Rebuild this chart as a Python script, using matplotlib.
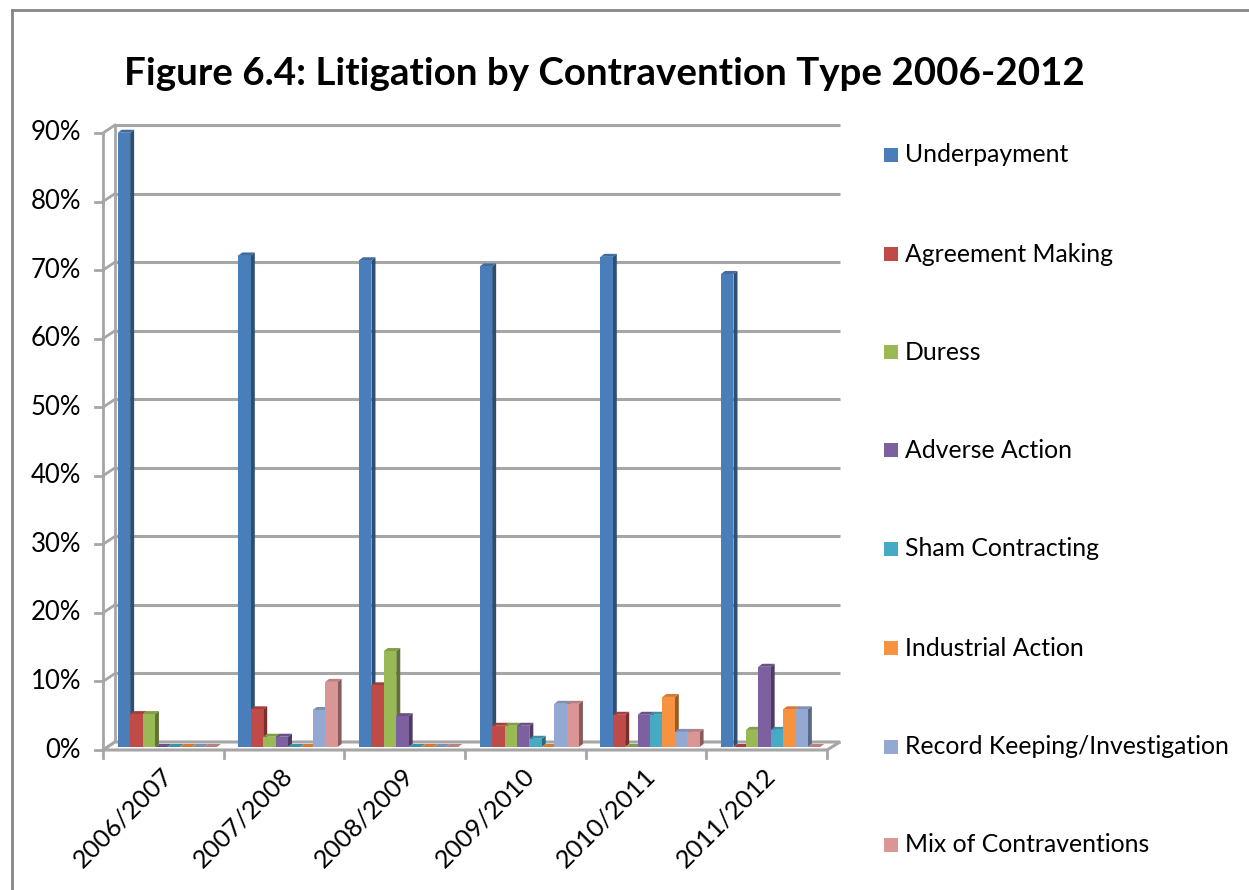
import matplotlib
matplotlib.use("Agg")
import matplotlib.pyplot as plt
from matplotlib.patches import Polygon, Rectangle
from matplotlib.lines import Line2D
import matplotlib.colors as mcolors
import numpy as np

# ---------------- data ----------------
categories = ["2006/2007", "2007/2008", "2008/2009", "2009/2010", "2010/2011", "2011/2012"]
series_names = ["Underpayment", "Agreement Making", "Duress", "Adverse Action",
                "Sham Contracting", "Industrial Action", "Record Keeping/Investigation",
                "Mix of Contraventions"]
underpayment = [89.6, 71.7, 71.0, 70.1, 71.5, 69.0]
agreement_making = [4.8, 5.5, 9.0, 3.1, 4.7, 0.0]
duress = [4.8, 1.5, 14.0, 3.1, 0.0, 2.5]
adverse_action = [0.0, 1.5, 4.5, 3.1, 4.7, 11.7]
sham_contracting = [0.0, 0.0, 0.0, 1.2, 4.7, 2.5]
industrial_action = [0.0, 0.0, 0.0, 0.0, 7.3, 5.5]
record_keeping = [0.0, 5.4, 0.0, 6.3, 2.2, 5.5]
mix_contraventions = [0.0, 9.5, 0.0, 6.3, 2.2, 0.0]
series_values = [underpayment, agreement_making, duress, adverse_action,
                 sham_contracting, industrial_action, record_keeping, mix_contraventions]
colors = ["#4A7EBB", "#BE4B48", "#98B954", "#7D60A0", "#46AAC5", "#F69240", "#93A9D2", "#D99694"]
y_ticks = [0, 10, 20, 30, 40, 50, 60, 70, 80, 90]
title = "Figure 6.4: Litigation by Contravention Type 2006-2012"

# ---------------- figure ----------------
W, H = 1249, 890
fig = plt.figure(figsize=(W / 100, H / 100), dpi=100)
FONT = "Lato"

x0_px, x1_px, y0_px, y1_px = 103, 827, 750, 133
ax = fig.add_axes([x0_px / W, (H - y0_px) / H, (x1_px - x0_px) / W, (y0_px - y1_px) / H])
ax.set_xlim(-0.5, len(categories) - 0.5)
ax.set_ylim(0, 90)
ax.axis("off")

# pixel -> data conversions
pxx = (len(categories)) / (x1_px - x0_px)
pxy = 90.0 / (y0_px - y1_px)

# 3D wall geometry (pixels)
ddx, ddy = 12, 8          # depth of the walls
grid_col = "#A6A6A6"
xl, xr = -0.5, len(categories) - 0.5

# back-wall gridlines and side wall diagonals
for t in y_ticks:
    ax.plot([xl + ddx * pxx, xr + ddx * pxx * 1.08], [t + ddy * pxy, t + ddy * pxy],
            color=grid_col, lw=2.2, clip_on=False, zorder=1, solid_capstyle="butt")
    ax.plot([xl, xl + ddx * pxx], [t, t + ddy * pxy], color=grid_col, lw=2.0,
            clip_on=False, zorder=1)
    # y ticks on front axis
    ax.plot([xl - 8 * pxx, xl], [t, t], color=grid_col, lw=2.0, clip_on=False, zorder=1)
    ax.text(xl - 22 * pxx, t, f"{t}%", ha="right", va="center", fontsize=18.5,
            family=FONT, color="#000000")

# left wall verticals
ax.plot([xl, xl], [0, 90], color=grid_col, lw=2.0, clip_on=False, zorder=1)
ax.plot([xl + ddx * pxx, xl + ddx * pxx], [ddy * pxy, 90 + ddy * pxy], color=grid_col,
        lw=2.0, clip_on=False, zorder=1)

# floor
xr_back = xr + ddx * pxx * 1.08
floor = Polygon([[xl, 0], [xr, 0], [xr_back, ddy * pxy], [xl + ddx * pxx, ddy * pxy]],
                closed=True, facecolor="white", edgecolor=grid_col, lw=2.2,
                clip_on=False, zorder=1.5)
ax.add_patch(floor)

# category ticks
for k in range(len(categories) + 1):
    ax.plot([xl + k, xl + k], [0, -8 * pxy], color=grid_col, lw=2.0, clip_on=False, zorder=1)

# ---------------- bars ----------------
nser = len(series_values)
bw = 12.4 / 120.67
shift_x, shift_y = 4 * pxx, 3 * pxy   # bars sit a bit back inside the floor
side_dx, side_dy = 4 * pxx, 3 * pxy


def shade(c, f):
    r, g, b = mcolors.to_rgb(c)
    if f < 1:
        return (r * f, g * f, b * f)
    return (r + (1 - r) * (f - 1), g + (1 - g) * (f - 1), b + (1 - b) * (f - 1))


z = 3
for ci in range(len(categories)):
    for si in range(nser):
        v = series_values[si][ci]
        left = ci - nser * bw / 2 + si * bw + shift_x
        bottom = shift_y
        col = colors[si]
        # side face
        side = Polygon([[left + bw, bottom], [left + bw, bottom + v],
                        [left + bw + side_dx, bottom + v + side_dy],
                        [left + bw + side_dx, bottom + side_dy]],
                       closed=True, facecolor=shade(col, 0.62), edgecolor="none",
                       zorder=z, clip_on=False)
        ax.add_patch(side)
        # top face
        top = Polygon([[left, bottom + v], [left + bw, bottom + v],
                       [left + bw + side_dx, bottom + v + side_dy],
                       [left + side_dx, bottom + v + side_dy]],
                      closed=True, facecolor=shade(col, 0.85), edgecolor="none",
                      zorder=z + 0.1, clip_on=False)
        ax.add_patch(top)
        # front face
        ax.bar(left, v, width=bw, bottom=bottom, align="edge", color=col,
               edgecolor="none", zorder=z + 0.2, clip_on=False)
        z += 0.5

# category labels
for ci, cat in enumerate(categories):
    ax.text(ci + 5 * pxx, -22 * pxy, cat, rotation=45, rotation_mode="anchor",
            ha="right", va="center", fontsize=18.3, family=FONT, color="#000000")

# ---------------- legend ----------------
leg_y = [155, 254, 352, 450, 549, 648, 747, 845]
for si, name in enumerate(series_names):
    yc = leg_y[si]
    fig.patches.append(Rectangle((884 / W, (H - yc - 7) / H), 14 / W, 14 / H,
                                 transform=fig.transFigure, facecolor=colors[si],
                                 edgecolor="none"))
    fig.text(905 / W, (H - yc) / H, name, ha="left", va="center", fontsize=17.8,
             family=FONT, color="#000000")

# ---------------- title ----------------
fig.text(604 / W, (H - 74) / H, title, ha="center", va="center", fontsize=27.7,
         family=FONT, fontweight="bold", color="#000000")

# outer frame
fig.add_artist(Line2D([12 / W, 12 / W], [0, (H - 10) / H], transform=fig.transFigure,
                      color="#868686", lw=2))
fig.add_artist(Line2D([12 / W, 1], [(H - 10) / H, (H - 10) / H], transform=fig.transFigure,
                      color="#868686", lw=2))

fig.savefig("out.png", dpi=100)
